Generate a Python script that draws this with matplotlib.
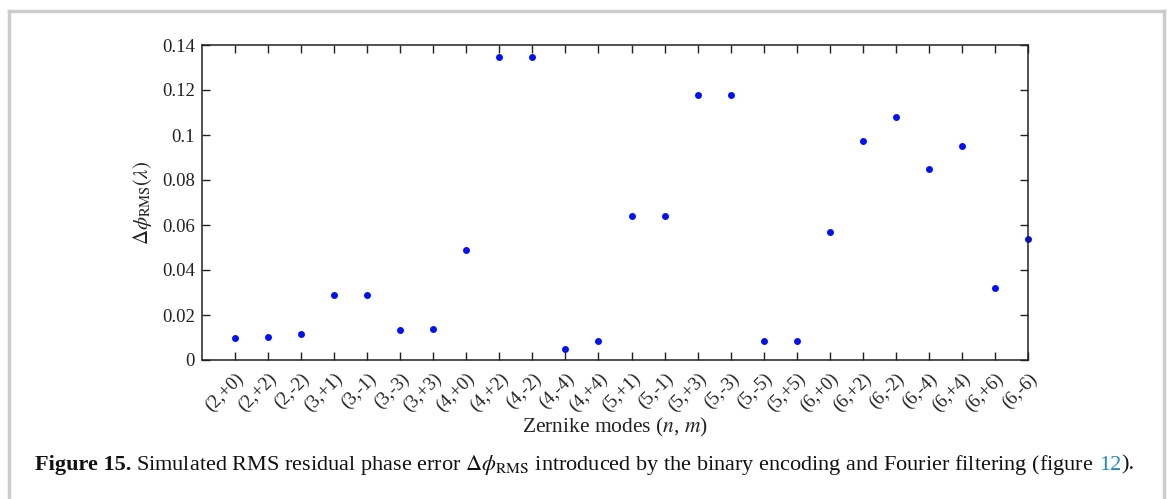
import matplotlib
matplotlib.use("Agg")
import matplotlib.pyplot as plt
from matplotlib.lines import Line2D

plt.rcParams['font.family'] = ['Liberation Serif', 'DejaVu Serif']
plt.rcParams['mathtext.fontset'] = 'stix'

modes = ['(2,+0)', '(2,+2)', '(2,-2)', '(3,+1)', '(3,-1)', '(3,-3)', '(3,+3)',
         '(4,+0)', '(4,+2)', '(4,-2)', '(4,-4)', '(4,+4)', '(5,+1)', '(5,-1)',
         '(5,+3)', '(5,-3)', '(5,-5)', '(5,+5)', '(6,+0)', '(6,+2)', '(6,-2)',
         '(6,-4)', '(6,+4)', '(6,+6)', '(6,-6)']
rms_err = [0.0098, 0.0104, 0.0116, 0.0290, 0.0290, 0.0135, 0.0137,
           0.0490, 0.1345, 0.1345, 0.0048, 0.0085, 0.0638, 0.0638,
           0.1177, 0.1177, 0.0083, 0.0083, 0.0569, 0.0974, 0.1080,
           0.0849, 0.0951, 0.0318, 0.0536]
y_ticks = [0, 0.02, 0.04, 0.06, 0.08, 0.1, 0.12, 0.14]
y_tick_labels = ['0', '0.02', '0.04', '0.06', '0.08', '0.1', '0.12', '0.14']

W, H = 1172, 499
fig = plt.figure(figsize=(W / 100, H / 100), dpi=100)
ax = fig.add_axes([202 / W, 1 - 360 / H, (1028 - 202) / W, (360 - 45) / H])

xs = list(range(1, len(modes) + 1))
ax.plot(xs, rms_err, 'o', color='#0010ff', markersize=5, markeredgewidth=0,
        clip_on=False)

ax.set_xlim(0, len(modes))
ax.set_ylim(0, 0.14)
ax.set_xticks(xs)
ax.set_xticklabels(modes, rotation=45, ha='right', rotation_mode='anchor')
ax.set_yticks(y_ticks)
ax.set_yticklabels(y_tick_labels)
ax.tick_params(direction='in', length=6, width=1, top=True, right=True,
               labelsize=13.5, colors='#222222')
ax.tick_params(axis='x', pad=7)
ax.tick_params(axis='y', pad=5)
for s in ax.spines.values():
    s.set_linewidth(1.1)
    s.set_color('#222222')

ax.set_ylabel(r'$\Delta\phi_{\mathrm{RMS}}(\lambda)$', fontsize=15, labelpad=6,
              color='#222222')
ax.set_xlabel(r'Zernike modes ($n$, $m$)', fontsize=15.5, labelpad=1,
              color='#222222')

# caption, pieces placed one after the other (gap in px before each piece)
cap_y = 1 - 465 / H
cap_fs = 16
pieces = [
    ('Figure 15.', 'bold', '#111111', 0),
    (r'Simulated RMS residual phase error $\Delta\phi_{\mathrm{RMS}}$ '
     r'introduced by the binary encoding and Fourier filtering (figure',
     'normal', '#111111', 5),
    ('12', 'normal', '#1a8ac8', 5),
    (').', 'normal', '#111111', 0),
]
renderer = fig.canvas.get_renderer()
x = 35 / W
for txt, wt, col, gap in pieces:
    x += gap / W
    t = fig.text(x, cap_y, txt, fontsize=cap_fs, fontweight=wt, va='center',
                 color=col)
    bb = t.get_window_extent(renderer=renderer)
    x += bb.width / W

# light grey frame around the figure panel
frame_col = '#cccccc'
for xx, yy in [([9, 9], [H, 11]), ([1164, 1164], [H, 11]), ([9, 1164], [11, 11])]:
    fig.add_artist(Line2D([v / W for v in xx], [1 - v / H for v in yy],
                          transform=fig.transFigure, color=frame_col, lw=2.5))

fig.savefig('out.png', dpi=100)
